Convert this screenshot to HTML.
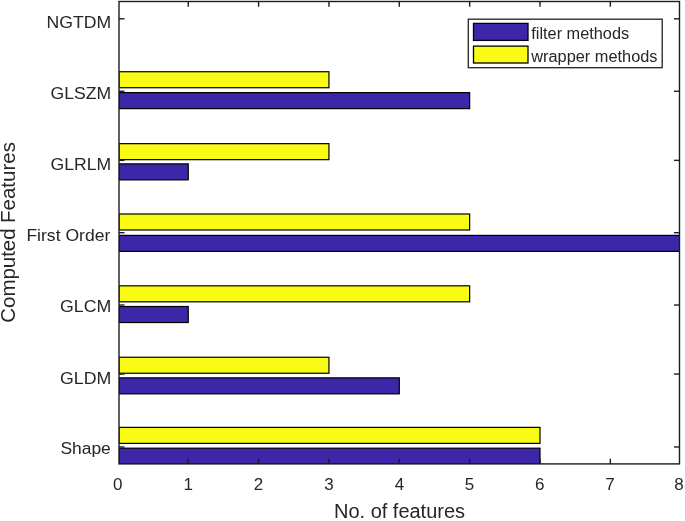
<!DOCTYPE html><html><head><meta charset="utf-8"><title>chart</title><style>html,body{margin:0;padding:0;background:#fff}svg{display:block;will-change:transform;opacity:.999;filter:blur(0.35px)}text{font-family:"Liberation Sans",sans-serif;fill:#262626}</style></head><body>
<svg width="685" height="521" viewBox="0 0 685 521">
<rect width="685" height="521" fill="#fff"/>
<defs><clipPath id="c"><rect x="119.0" y="1.5" width="560.5" height="462.4"/></clipPath></defs>
<g clip-path="url(#c)" stroke="#000" stroke-width="1.2">
<rect x="119.0" y="71.73" width="209.95" height="16" fill="#f9fb15"/>
<rect x="119.0" y="92.63" width="350.65" height="16" fill="#3e26a8"/>
<rect x="119.0" y="143.66" width="209.95" height="16" fill="#f9fb15"/>
<rect x="119.0" y="163.86" width="69.25" height="16" fill="#3e26a8"/>
<rect x="119.0" y="213.99" width="350.65" height="16" fill="#f9fb15"/>
<rect x="119.0" y="235.39" width="561.70" height="16" fill="#3e26a8"/>
<rect x="119.0" y="285.82" width="350.65" height="16" fill="#f9fb15"/>
<rect x="119.0" y="306.52" width="69.25" height="16" fill="#3e26a8"/>
<rect x="119.0" y="357.25" width="209.95" height="16" fill="#f9fb15"/>
<rect x="119.0" y="377.85" width="280.30" height="16" fill="#3e26a8"/>
<rect x="119.0" y="427.38" width="421.00" height="16" fill="#f9fb15"/>
<rect x="119.0" y="448.18" width="421.00" height="16" fill="#3e26a8"/>
</g>
<g stroke="#1c1c1c" stroke-width="1.4" fill="none">
<rect x="119.0" y="1.5" width="560.5" height="462.4"/>
<line x1="188.25" y1="463.9" x2="188.25" y2="458.7"/>
<line x1="188.25" y1="1.5" x2="188.25" y2="6.7"/>
<line x1="258.60" y1="463.9" x2="258.60" y2="458.7"/>
<line x1="258.60" y1="1.5" x2="258.60" y2="6.7"/>
<line x1="328.95" y1="463.9" x2="328.95" y2="458.7"/>
<line x1="328.95" y1="1.5" x2="328.95" y2="6.7"/>
<line x1="399.30" y1="463.9" x2="399.30" y2="458.7"/>
<line x1="399.30" y1="1.5" x2="399.30" y2="6.7"/>
<line x1="469.65" y1="463.9" x2="469.65" y2="458.7"/>
<line x1="469.65" y1="1.5" x2="469.65" y2="6.7"/>
<line x1="540.00" y1="463.9" x2="540.00" y2="458.7"/>
<line x1="540.00" y1="1.5" x2="540.00" y2="6.7"/>
<line x1="610.35" y1="463.9" x2="610.35" y2="458.7"/>
<line x1="610.35" y1="1.5" x2="610.35" y2="6.7"/>
<line x1="119.0" y1="18.80" x2="124.5" y2="18.80"/>
<line x1="679.5" y1="18.80" x2="674.0" y2="18.80"/>
<line x1="119.0" y1="91.23" x2="124.5" y2="91.23"/>
<line x1="679.5" y1="91.23" x2="674.0" y2="91.23"/>
<line x1="119.0" y1="160.36" x2="124.5" y2="160.36"/>
<line x1="679.5" y1="160.36" x2="674.0" y2="160.36"/>
<line x1="119.0" y1="232.69" x2="124.5" y2="232.69"/>
<line x1="679.5" y1="232.69" x2="674.0" y2="232.69"/>
<line x1="119.0" y1="305.02" x2="124.5" y2="305.02"/>
<line x1="679.5" y1="305.02" x2="674.0" y2="305.02"/>
<line x1="119.0" y1="374.05" x2="124.5" y2="374.05"/>
<line x1="679.5" y1="374.05" x2="674.0" y2="374.05"/>
<line x1="119.0" y1="446.98" x2="124.5" y2="446.98"/>
<line x1="679.5" y1="446.98" x2="674.0" y2="446.98"/>
</g>
<text x="117.80" y="490.2" font-size="17" text-anchor="middle">0</text>
<text x="188.20" y="490.2" font-size="17" text-anchor="middle">1</text>
<text x="258.60" y="490.2" font-size="17" text-anchor="middle">2</text>
<text x="329.00" y="490.2" font-size="17" text-anchor="middle">3</text>
<text x="399.40" y="490.2" font-size="17" text-anchor="middle">4</text>
<text x="469.60" y="490.2" font-size="17" text-anchor="middle">5</text>
<text x="539.80" y="490.2" font-size="17" text-anchor="middle">6</text>
<text x="609.90" y="490.2" font-size="17" text-anchor="middle">7</text>
<text x="678.90" y="490.2" font-size="17" text-anchor="middle">8</text>
<text x="46.60" y="28.30" font-size="17.3" textLength="64.6" lengthAdjust="spacingAndGlyphs">NGTDM</text>
<text x="50.60" y="98.55" font-size="17.3" textLength="60.6" lengthAdjust="spacingAndGlyphs">GLSZM</text>
<text x="50.60" y="169.90" font-size="17.3" textLength="60.6" lengthAdjust="spacingAndGlyphs">GLRLM</text>
<text x="26.40" y="241.45" font-size="17.3" textLength="83.9" lengthAdjust="spacingAndGlyphs">First Order</text>
<text x="60.00" y="312.00" font-size="17.3" textLength="51.2" lengthAdjust="spacingAndGlyphs">GLCM</text>
<text x="60.00" y="383.55" font-size="17.3" textLength="51.2" lengthAdjust="spacingAndGlyphs">GLDM</text>
<text x="60.40" y="453.50" font-size="17.3" textLength="50.4" lengthAdjust="spacingAndGlyphs">Shape</text>
<text x="334.0" y="517.9" font-size="19.5" textLength="131" lengthAdjust="spacingAndGlyphs">No. of features</text>
<text transform="translate(15.3,322.7) rotate(-90)" font-size="19.4"><tspan x="0" textLength="94.3" lengthAdjust="spacingAndGlyphs">Computed</tspan> <tspan x="99.8" textLength="80.8" lengthAdjust="spacingAndGlyphs">Features</tspan></text>
<rect x="468.3" y="19.2" width="193.9" height="48.5" fill="#fff" stroke="#222" stroke-width="1.3"/>
<rect x="473.5" y="23.4" width="54.5" height="17" fill="#3e26a8" stroke="#000" stroke-width="1.3"/>
<rect x="473.5" y="46.1" width="54.5" height="16.9" fill="#f9fb15" stroke="#000" stroke-width="1.3"/>
<text x="531.3" y="38.6" font-size="16" textLength="97.8" lengthAdjust="spacingAndGlyphs">filter methods</text>
<text x="531.3" y="61.7" font-size="16" textLength="126.2" lengthAdjust="spacingAndGlyphs">wrapper methods</text>
</svg></body></html>
